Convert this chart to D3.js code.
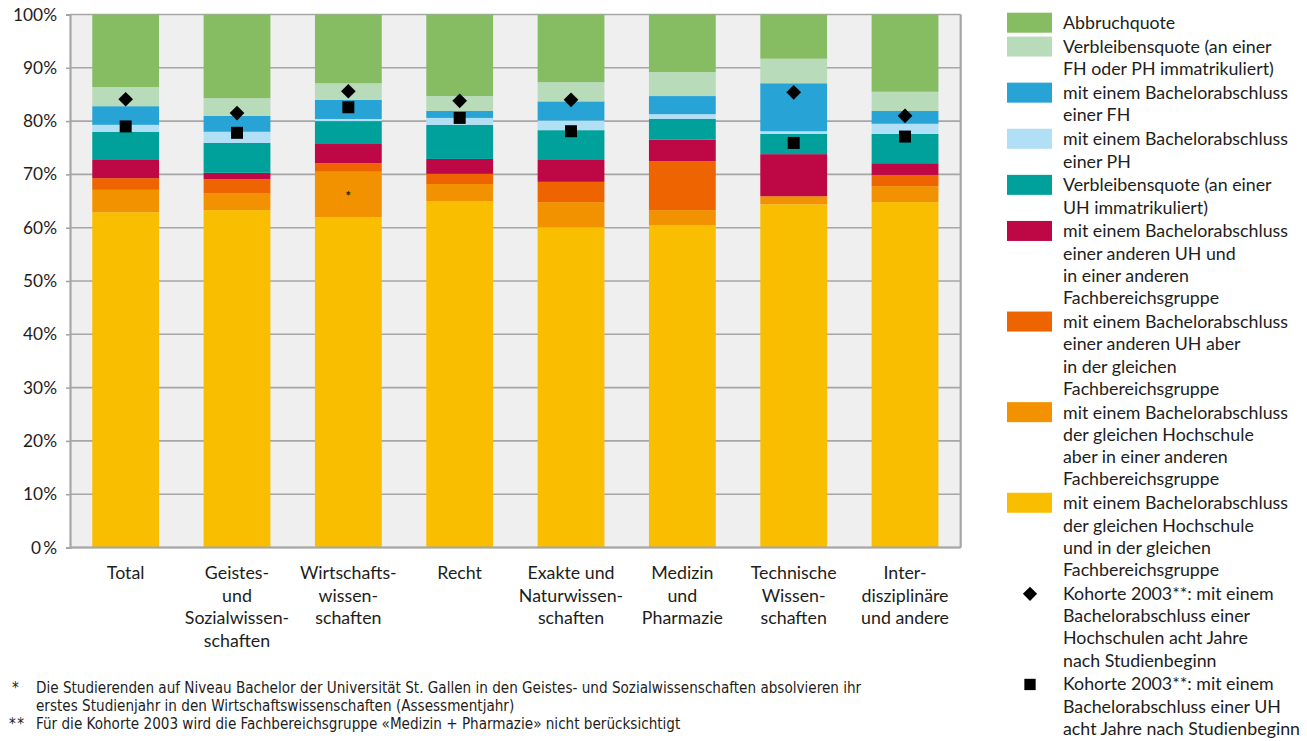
<!DOCTYPE html>
<html>
<head>
<meta charset="utf-8">
<script src="https://cdn.jsdelivr.net/npm/d3@7"></script>
<style>
  html, body { margin: 0; padding: 0; background: #fff; }
  svg { display: block; }
  text { font-family: Lato, "Open Sans", sans-serif; fill: #1d1d1b; }
  .foot { font-family: "DejaVu Sans Condensed", "Liberation Sans Narrow", Lato, sans-serif; }
</style>
</head>
<body>
<svg id="chart" width="1307" height="741"></svg>
<script>
// Fachbereichsgruppen (x-axis categories, one array of lines per label)
const categories = ["Total", "Geistes", "Wirtschaft", "Recht", "Exakte", "Medizin", "Technik", "Inter"];
const categoryLines = [
  ["Total"],
  ["Geistes-", "und", "Sozialwissen-", "schaften"],
  ["Wirtschafts-", "wissen-", "schaften"],
  ["Recht"],
  ["Exakte und", "Naturwissen-", "schaften"],
  ["Medizin", "und", "Pharmazie"],
  ["Technische", "Wissen-", "schaften"],
  ["Inter-", "disziplinäre", "und andere"]
];

// Shares in percent, one array per outcome (bottom of the stack first)
const gleicheHSgleicheFB   = [62.9, 63.3, 62.0, 65.0, 60.1, 60.5, 64.4, 64.8];
const gleicheHSandereFB    = [4.2, 3.2, 8.5, 3.2, 4.7, 2.8, 1.5, 3.0];
const andereUHgleicheFB    = [2.2, 2.6, 1.6, 1.9, 3.8, 9.2, 0.0, 2.1];
const andereUHandereFB     = [3.4, 1.2, 3.6, 2.8, 4.1, 4.0, 7.9, 2.2];
const verbleibUH           = [5.3, 5.6, 4.3, 6.4, 5.6, 3.9, 3.8, 5.5];
const bachelorPH           = [1.3, 2.1, 0.4, 1.3, 1.8, 0.9, 0.5, 1.9];
const bachelorFH           = [3.5, 3.0, 3.6, 1.3, 3.6, 3.4, 9.0, 2.4];
const verbleibFHPH         = [3.6, 3.3, 3.1, 2.8, 3.6, 4.5, 4.6, 3.6];
const abbruch              = [13.6, 15.7, 12.9, 15.3, 12.7, 10.8, 8.3, 14.5];

// Kohorte 2003 reference points (null = not available)
const kohorteHochschulen = [84.1, 81.5, 85.6, 83.8, 84.0, null, 85.4, 81.0];
const kohorteUH          = [79.0, 77.8, 82.6, 80.6, 78.1, null, 75.9, 77.1];

// y-axis tick labels
const yTicks = [0, 10, 20, 30, 40, 50, 60, 70, 80, 90, 100];
const yTickLabels = ["0\u2009%", "10%", "20%", "30%", "40%", "50%", "60%", "70%", "80%", "90%", "100%"];

// Series definitions: stack order bottom -> top
const series = [
  { key: "gleicheHSgleicheFB", values: gleicheHSgleicheFB, color: "#fabe00",
    label: ["mit einem Bachelorabschluss", "der gleichen Hochschule", "und in der gleichen", "Fachbereichsgruppe"] },
  { key: "gleicheHSandereFB", values: gleicheHSandereFB, color: "#f39200",
    label: ["mit einem Bachelorabschluss", "der gleichen Hochschule", "aber in einer anderen", "Fachbereichsgruppe"] },
  { key: "andereUHgleicheFB", values: andereUHgleicheFB, color: "#ee6400",
    label: ["mit einem Bachelorabschluss", "einer anderen UH aber", "in der gleichen", "Fachbereichsgruppe"] },
  { key: "andereUHandereFB", values: andereUHandereFB, color: "#be0745",
    label: ["mit einem Bachelorabschluss", "einer anderen UH und", "in einer anderen", "Fachbereichsgruppe"] },
  { key: "verbleibUH", values: verbleibUH, color: "#00a19b",
    label: ["Verbleibensquote (an einer", "UH immatrikuliert)"] },
  { key: "bachelorPH", values: bachelorPH, color: "#b1dff6",
    label: ["mit einem Bachelorabschluss", "einer PH"] },
  { key: "bachelorFH", values: bachelorFH, color: "#27a3d5",
    label: ["mit einem Bachelorabschluss", "einer FH"] },
  { key: "verbleibFHPH", values: verbleibFHPH, color: "#b8dbba",
    label: ["Verbleibensquote (an einer", "FH oder PH immatrikuliert)"] },
  { key: "abbruch", values: abbruch, color: "#86bd63",
    label: ["Abbruchquote"] }
];

const rows = categories.map((c, i) => {
  const r = { category: c };
  series.forEach(s => { r[s.key] = s.values[i]; });
  return r;
});

const svg = d3.select("#chart");
const plot = { left: 70, right: 960.7, top: 14.5, bottom: 547.5 };

const x = d3.scaleBand()
  .domain(categories)
  .range([plot.left, plot.right])
  .paddingInner(0.4)
  .paddingOuter(0.2);

const y = d3.scaleLinear().domain([0, 100]).range([plot.bottom, plot.top]);

// plot background
svg.append("rect")
  .attr("x", plot.left).attr("y", plot.top)
  .attr("width", plot.right - plot.left).attr("height", plot.bottom - plot.top)
  .attr("fill", "#efefef");

// horizontal gridlines
svg.append("g")
  .selectAll("line")
  .data(yTicks)
  .join("line")
  .attr("x1", plot.left).attr("x2", plot.right)
  .attr("y1", d => y(d)).attr("y2", d => y(d))
  .attr("stroke", "#a6a6a6").attr("stroke-width", 1.6);

// stacked bars
const stacked = d3.stack().keys(series.map(s => s.key))(rows);
svg.append("g")
  .selectAll("g")
  .data(stacked)
  .join("g")
  .attr("fill", (d, i) => series[i].color)
  .selectAll("rect")
  .data(d => d)
  .join("rect")
  .attr("x", d => x(d.data.category))
  .attr("width", x.bandwidth())
  .attr("y", d => y(d[1]))
  .attr("height", d => Math.max(0, y(d[0]) - y(d[1])));

// left axis with outward ticks
const yAxis = d3.axisLeft(y)
  .tickValues(yTicks)
  .tickSize(4)
  .tickPadding(9)
  .tickFormat((d, i) => yTickLabels[i]);
const gy = svg.append("g").attr("transform", `translate(${plot.left},0)`).call(yAxis);
gy.select(".domain").attr("stroke", "#a6a6a6").attr("stroke-width", 2.2);
gy.selectAll(".tick line").attr("stroke", "#a6a6a6").attr("stroke-width", 1.6);
gy.selectAll(".tick text")
  .attr("font-family", "Lato, 'Open Sans', sans-serif")
  .attr("font-size", 17.3)
  .attr("fill", "#1d1d1b");

// bottom and right frame lines
svg.append("line")
  .attr("x1", plot.left).attr("x2", plot.right)
  .attr("y1", plot.bottom).attr("y2", plot.bottom)
  .attr("stroke", "#a6a6a6").attr("stroke-width", 2.2);
svg.append("line")
  .attr("x1", plot.right).attr("x2", plot.right)
  .attr("y1", plot.top).attr("y2", plot.bottom)
  .attr("stroke", "#a6a6a6").attr("stroke-width", 2.2);

// category labels
const xl = svg.append("g");
categories.forEach((c, i) => {
  const cx = x(c) + x.bandwidth() / 2;
  const t = xl.append("text")
    .attr("x", cx)
    .attr("y", 579)
    .attr("text-anchor", "middle")
    .attr("font-size", 17.8);
  categoryLines[i].forEach((line, j) => {
    t.append("tspan").attr("x", cx).attr("y", 579 + j * 22.7).text(line);
  });
});

// asterisk on the Wirtschaftswissenschaften "gleiche Hochschule, andere FB" segment
const wIdx = categories.indexOf("Wirtschaft");
svg.append("text")
  .attr("x", x("Wirtschaft") + x.bandwidth() / 2)
  .attr("y", y(gleicheHSgleicheFB[wIdx] + gleicheHSandereFB[wIdx] / 2) + 7)
  .attr("text-anchor", "middle")
  .attr("font-family", "'DejaVu Sans', sans-serif")
  .attr("font-weight", "bold")
  .attr("font-size", 13)
  .text("*");

// Kohorte 2003 markers
const diamond = d3.symbol().type(d3.symbolDiamond2).size(138);
const square = d3.symbol().type(d3.symbolSquare).size(144);
svg.append("g")
  .selectAll("path")
  .data(categories.map((c, i) => ({ c, v: kohorteHochschulen[i] })).filter(d => d.v != null))
  .join("path")
  .attr("d", diamond)
  .attr("transform", d => `translate(${x(d.c) + x.bandwidth() / 2},${y(d.v)})`)
  .attr("fill", "#000");
svg.append("g")
  .selectAll("path")
  .data(categories.map((c, i) => ({ c, v: kohorteUH[i] })).filter(d => d.v != null))
  .join("path")
  .attr("d", square)
  .attr("transform", d => `translate(${x(d.c) + x.bandwidth() / 2},${y(d.v)})`)
  .attr("fill", "#000");

// legend
const legendItems = series.slice().reverse().map(s => ({ type: "swatch", color: s.color, label: s.label }));
legendItems.push({ type: "diamond", label: ["Kohorte 2003**: mit einem", "Bachelorabschluss einer", "Hochschulen acht Jahre", "nach Studienbeginn"] });
legendItems.push({ type: "square", label: ["Kohorte 2003**: mit einem", "Bachelorabschluss einer UH", "acht Jahre nach Studienbeginn"] });

const lg = svg.append("g");
const lineH = 22.25, itemGap = 1.6;
let base = 29.2;
legendItems.forEach(item => {
  if (item.type === "swatch") {
    lg.append("rect").attr("x", 1007).attr("y", base - 16.5).attr("width", 45).attr("height", 20).attr("fill", item.color);
  } else if (item.type === "diamond") {
    lg.append("path").attr("d", d3.symbol().type(d3.symbolDiamond2).size(130)).attr("transform", `translate(1030,${base - 6})`).attr("fill", "#000");
  } else {
    lg.append("path").attr("d", d3.symbol().type(d3.symbolSquare).size(128)).attr("transform", `translate(1030,${base - 6})`).attr("fill", "#000");
  }
  const t = lg.append("text").attr("font-size", 17.8);
  item.label.forEach((line, j) => {
    t.append("tspan").attr("x", 1063).attr("y", base + j * lineH).text(line);
  });
  base += item.label.length * lineH + itemGap;
});

// footnotes
const notes = [
  { mark: "*", x: 12, lines: ["Die Studierenden auf Niveau Bachelor der Universität St. Gallen in den Geistes- und Sozialwissenschaften absolvieren ihr", "erstes Studienjahr in den Wirtschaftswissenschaften (Assessmentjahr)"] },
  { mark: "**", x: 9, lines: ["Für die Kohorte 2003 wird die Fachbereichsgruppe «Medizin + Pharmazie» nicht berücksichtigt"] }
];
let fy = 692.5;
notes.forEach(n => {
  svg.append("text").attr("class", "foot").attr("x", n.x).attr("y", fy).attr("font-size", 15.1).attr("letter-spacing", n.mark.length > 1 ? 1.5 : 0).text(n.mark);
  n.lines.forEach(line => {
    svg.append("text").attr("class", "foot").attr("x", 36).attr("y", fy).attr("font-size", 15.1).text(line);
    fy += 18.3;
  });
});
</script>
</body>
</html>
